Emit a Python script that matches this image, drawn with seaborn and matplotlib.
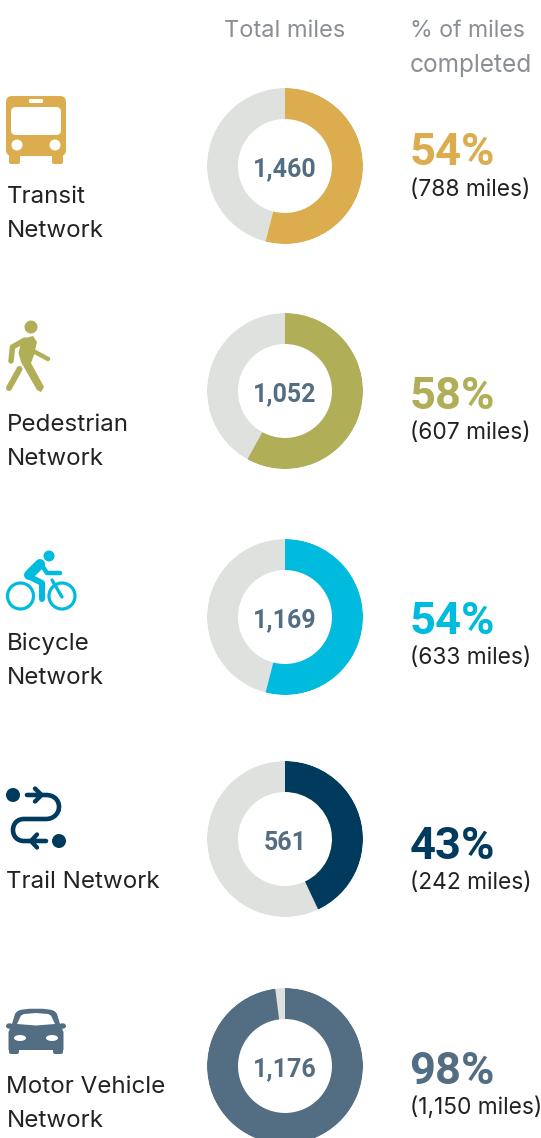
import numpy as np
import seaborn as sns
import matplotlib.pyplot as plt
from matplotlib.patches import Circle, Ellipse, FancyBboxPatch, Polygon, PathPatch
from matplotlib.path import Path

# Data
networks = ['Transit\nNetwork', 'Pedestrian\nNetwork', 'Bicycle\nNetwork', 'Trail Network', 'Motor Vehicle\nNetwork']
total_miles = [1460, 1052, 1169, 561, 1176]
pct_done = [54, 58, 54, 43, 98]
miles_done = [788, 607, 633, 242, 1150]
colors = ['#dcad4e', '#b1ae58', '#00bbdd', '#003a5d', '#536d82']

GREY = '#dfe1df'
W, H = 541, 1138
center_x = 285
center_y = [166, 391, 617, 839, 1066]
R_OUT, R_IN = 78, 47

sns.set_theme(style='white')
plt.rcParams['font.family'] = ['Inter', 'DejaVu Sans']
BOLD = ['Roboto', 'DejaVu Sans']

fig = plt.figure(figsize=(W / 100, H / 100), dpi=100, facecolor='white')

# Donuts, one small polar axes each
for i in range(len(networks)):
    box = [(center_x - R_OUT) / W, 1 - (center_y[i] + R_OUT) / H, 2 * R_OUT / W, 2 * R_OUT / H]
    ax = fig.add_axes(box, projection='polar')
    r_mid = (R_OUT + R_IN) / 2
    sns.barplot(x=[2 * np.pi], y=[r_mid], orient='y', native_scale=True, width=R_OUT - R_IN,
                color=GREY, saturation=1, linewidth=0, ax=ax)
    sns.barplot(x=[2 * np.pi * pct_done[i] / 100], y=[r_mid], orient='y', native_scale=True,
                width=R_OUT - R_IN, color=colors[i], saturation=1, linewidth=0, ax=ax)
    ax.set_theta_zero_location('N')
    ax.set_theta_direction(-1)
    ax.set_xlim(0, 2 * np.pi)
    ax.set_ylim(0, R_OUT)
    ax.set_axis_off()

# Overlay in pixel coordinates for text and icons
ov = fig.add_axes([0, 0, 1, 1], zorder=5)
ov.set_xlim(0, W)
ov.set_ylim(H, 0)
ov.set_axis_off()
ov.patch.set_alpha(0)


def stroke(pts, color, lw):
    xs, ys = zip(*pts)
    ov.plot(xs, ys, color=color, lw=lw * 0.72, solid_capstyle='round', solid_joinstyle='round')


def rbox(x0, y0, x1, y1, rad, color):
    ov.add_patch(FancyBboxPatch((x0 + rad, y0 + rad), x1 - x0 - 2 * rad, y1 - y0 - 2 * rad,
                                boxstyle=f'round,pad={rad},rounding_size={rad}', fc=color, ec='none'))


def bus(c):
    rbox(9, 150, 20, 164, 2, c)
    rbox(52, 150, 63, 164, 2, c)
    rbox(6, 96, 66, 156, 6, c)
    rbox(11, 107, 61, 135, 5, 'white')
    rbox(29, 99, 43, 103, 1.5, 'white')
    ov.add_patch(Circle((17, 145), 5.5, fc='white', ec='none'))
    ov.add_patch(Circle((55, 145), 5.5, fc='white', ec='none'))


def walker(c):
    ov.add_patch(Circle((31, 327), 6.5, fc=c, ec='none'))
    ov.add_patch(Polygon([(22, 339), (33, 336), (37, 342), (34, 355), (31, 363), (44, 387), (41, 392), (37, 390),
                          (21, 362), (18.5, 353)], fc=c, ec='none'))
    stroke([(25, 340), (12.5, 347), (11, 361)], c, 5.5)
    stroke([(35, 352), (48, 359)], c, 4.5)
    stroke([(19.5, 369), (9, 388)], c, 6)


def bicycle(c):
    ov.add_patch(Circle((49, 556), 5.5, fc=c, ec='none'))
    for x in (20.5, 62):
        ov.add_patch(Circle((x, 596), 13, fc='none', ec=c, lw=3.2 * 0.72))
    stroke([(29, 575), (40, 564)], c, 10)
    stroke([(41, 564), (47, 573), (60, 573)], c, 4.5)
    stroke([(30, 577), (42, 583), (42, 599)], c, 6)
    stroke([(52, 580), (62, 597)], c, 3.3)


def trail(c):
    ov.add_patch(Circle((13, 795), 7, fc=c, ec='none'))
    ov.add_patch(Circle((59, 841), 7, fc=c, ec='none'))
    codes = [Path.MOVETO, Path.LINETO, Path.CURVE4, Path.CURVE4, Path.CURVE4, Path.CURVE4, Path.CURVE4, Path.CURVE4,
             Path.LINETO, Path.CURVE4, Path.CURVE4, Path.CURVE4, Path.CURVE4, Path.CURVE4, Path.CURVE4, Path.LINETO]
    verts = [(27, 795), (46, 795), (54, 795), (59, 800), (59, 807), (59, 813), (54, 819), (46, 819),
             (24, 819), (17, 819), (13, 824), (13, 830), (13, 836), (17, 841), (24, 841), (46, 841)]
    ov.add_patch(PathPatch(Path(verts, codes), fc='none', ec=c, lw=4.6 * 0.72, capstyle='round'))
    stroke([(35, 788.5), (41.5, 795), (35, 801.5)], c, 4.4)
    stroke([(37, 834.5), (31, 841), (37, 847.5)], c, 4.4)


def car(c):
    rbox(9, 1044, 19, 1054, 2, c)
    rbox(53, 1044, 63, 1054, 2, c)
    roof = [(Path.MOVETO, (8.5, 1032)), (Path.LINETO, (12, 1024)), (Path.LINETO, (15, 1014)), (Path.CURVE3, (17, 1010)),
            (Path.CURVE3, (23, 1009.5)), (Path.CURVE3, (36, 1007.5)), (Path.CURVE3, (49, 1009.5)), (Path.CURVE3, (55, 1010)),
            (Path.CURVE3, (57, 1014)), (Path.LINETO, (60, 1024)), (Path.LINETO, (63.5, 1032)), (Path.LINETO, (63.5, 1050)),
            (Path.LINETO, (8.5, 1050)), (Path.CLOSEPOLY, (8.5, 1032))]
    codes, verts = zip(*roof)
    ov.add_patch(PathPatch(Path(verts, codes), fc=c, ec='none'))
    ov.add_patch(Ellipse((9.5, 1026), 7, 5.5, fc=c, ec='none'))
    ov.add_patch(Ellipse((62.5, 1026), 7, 5.5, fc=c, ec='none'))
    ov.add_patch(Polygon([(17, 1024), (21, 1015.5), (24, 1014), (36, 1013), (48, 1014), (51, 1015.5), (55, 1024), (36, 1025.5)],
                         fc='white', ec='none'))
    ov.add_patch(Ellipse((20, 1038), 12, 6, fc='white', ec='none'))
    ov.add_patch(Ellipse((52, 1038), 12, 6, fc='white', ec='none'))


for draw, c in zip([bus, walker, bicycle, trail, car], colors):
    draw(c)

# Headers
HEAD = '#8a8f94'
DARK = '#222222'
ov.text(center_x, 37, 'Total miles', ha='center', va='baseline', fontsize=17, color=HEAD)
ov.text(409.5, 37, '% of miles', ha='left', va='baseline', fontsize=16.6, color=HEAD)
ov.text(409.5, 72, 'completed', ha='left', va='baseline', fontsize=17.6, color=HEAD)

# Row text
label_base = [[203, 237], [431, 465], [650, 684], [888], [1093, 1127]]
pct_base = [165, 409, 634, 859, 1084]
sub_base = [196, 439, 664, 889, 1114]
for i, name in enumerate(networks):
    for line, y in zip(name.split('\n'), label_base[i]):
        ov.text(6.5, y, line, ha='left', va='baseline', fontsize=17.4, color=DARK)
    ov.text(center_x, center_y[i] + 10.5, f'{total_miles[i]:,}', ha='center', va='baseline', fontsize=18,
            family=BOLD, fontweight='bold', color='#536d82')
    ov.text(409.5, pct_base[i], f'{pct_done[i]}%', ha='left', va='baseline', fontsize=32.6,
            family=BOLD, fontweight='bold', color=colors[i])
    ov.text(409.5, sub_base[i], f'({miles_done[i]:,} miles)', ha='left', va='baseline', fontsize=16.4, color=DARK)

fig.savefig('out.png', dpi=100)
